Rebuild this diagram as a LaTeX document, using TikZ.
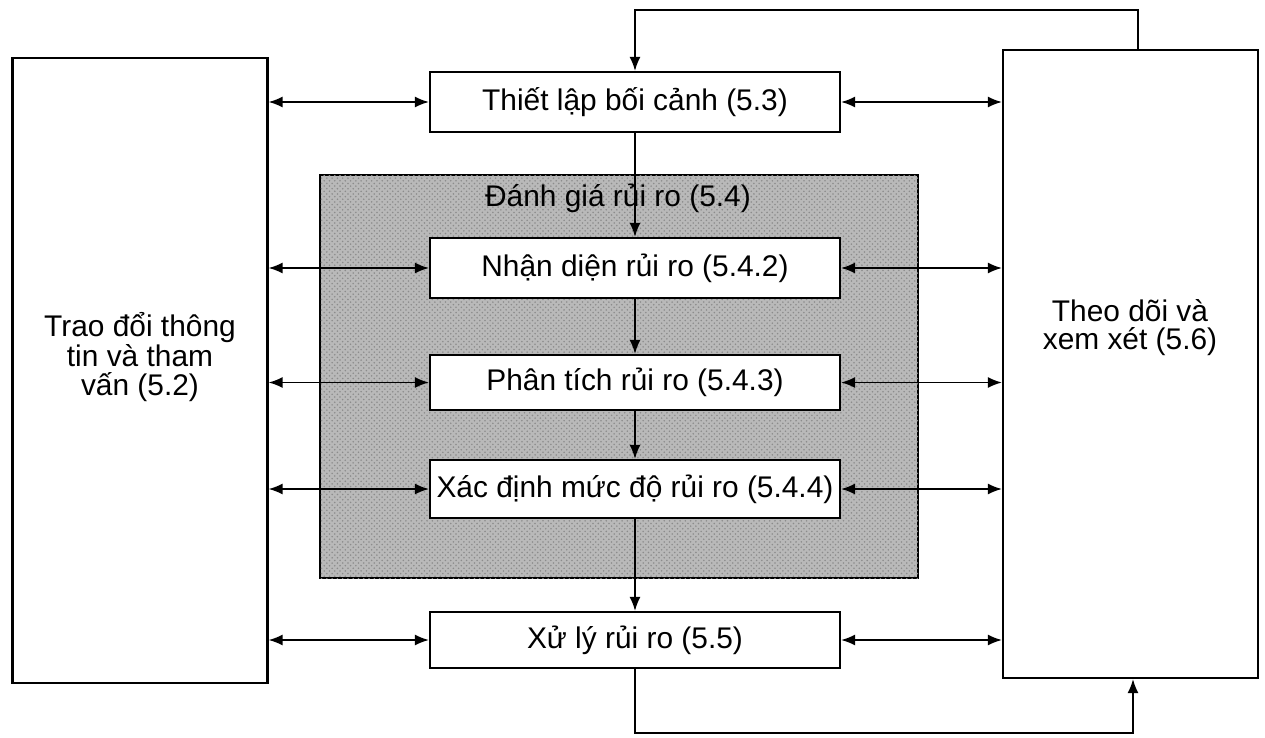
\documentclass[tikz,border=0pt]{standalone}
\usepackage{fontspec}
\setmainfont{Liberation Sans}
\usetikzlibrary{arrows.meta,patterns,positioning}
\tikzset{
  every picture/.style={
    line join=miter,
    >={Latex[length=2.8mm,width=2.2mm]},   % small filled heads
  },
  stagebox/.style={draw, line width=1.2pt, fill=white, minimum width=8.2cm,
    inner sep=1pt, font=\fontsize{17}{20}\selectfont},
  sidebox/.style={draw, line width=1.2pt, minimum width=5.1cm},
  sidetext/.style={align=center, font=\fontsize{17}{16}\selectfont},
  link/.style={line width=1pt},
}

\begin{document}
\begin{tikzpicture}
    \useasboundingbox (0,0) rectangle (25.3,-14.74);

    % Shaded assessment area
    \node[draw, line width=1.2pt, fill=gray!55, minimum width=11.96cm, minimum height=8.06cm,
          postaction={pattern=crosshatch dots, pattern color=black!45}] (area) at (12.38,-7.53) {};
    \node[font=\fontsize{17}{20}\selectfont] (areatitle) at (12.36,-3.96) {Đánh giá rủi ro (5.4)};

    % Side boxes
    \node[sidebox, minimum height=12.5cm] (comm) at (2.8,-7.41) {};
    \node[sidetext] (commtext) at (2.8,-7.14) {Trao đổi thông\\tin và tham\\vấn (5.2)};
    \node[sidebox, minimum height=12.56cm] (monitor) at (22.61,-7.28) {};
    \node[sidetext] (monitortext) at (22.6,-6.56) {Theo dõi và\\xem xét (5.6)};

    % Process steps
    \node[stagebox, minimum height=1.2cm] (context) at (12.7,-2.04) {Thiết lập bối cảnh (5.3)};
    \node[stagebox, minimum height=1.2cm] (identify) at (12.7,-5.36) {Nhận diện rủi ro (5.4.2)};
    \node[stagebox, minimum height=1.1cm] (analyse) at (12.7,-7.65) {Phân tích rủi ro (5.4.3)};
    \node[stagebox, minimum height=1.16cm] (evaluate) at (12.7,-9.78) {Xác định mức độ rủi ro (5.4.4)};
    \node[stagebox, minimum height=1.12cm] (treat) at (12.7,-12.8) {Xử lý rủi ro (5.5)};

    % Main flow
    \foreach \a/\b in {context/identify, identify/analyse, analyse/evaluate, evaluate/treat} {
        \draw[link, ->] (\a) -- (\b);
    }

    % Links to both side boxes
    \foreach \s in {context, identify, analyse, evaluate, treat} {
        \draw[link, <->] (comm.east |- \s.west) -- (\s.west);
        \draw[link, <->] (\s.east) -- (monitor.west |- \s.east);
    }

    % Feedback loops
    \coordinate (topturn) at (22.76,-0.2);
    \coordinate (botturn) at (22.66,-14.66);
    \draw[link, ->] (monitor.north -| topturn) -- (topturn) -| (context.north);
    \draw[link, ->] (treat.south) |- (botturn) -- (monitor.south -| botturn);
\end{tikzpicture}
\end{document}
